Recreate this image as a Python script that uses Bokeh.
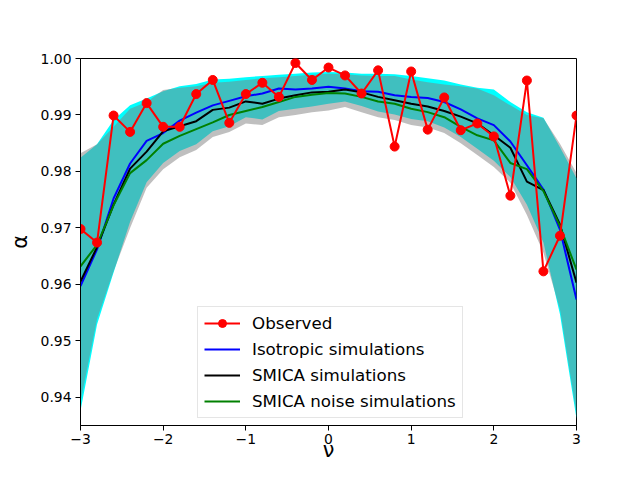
from bokeh.plotting import figure
from bokeh.models import FixedTicker, NumeralTickFormatter, Legend, LegendItem, Range1d
from bokeh.embed import file_html
from bokeh.resources import INLINE

nu = [-3.0, -2.8, -2.6, -2.4, -2.2, -2.0, -1.8, -1.6, -1.4, -1.2, -1.0,
      -0.8, -0.6, -0.4, -0.2, 0.0, 0.2, 0.4, 0.6, 0.8, 1.0,
      1.2, 1.4, 1.6, 1.8, 2.0, 2.2, 2.4, 2.6, 2.8, 3.0]

observed = [0.9698, 0.9674, 0.9899, 0.9870, 0.9921, 0.9879, 0.9879, 0.9937, 0.9962, 0.9886, 0.9937,
            0.9957, 0.9932, 0.9992, 0.9962, 0.9984, 0.9970, 0.9938, 0.9979, 0.9844, 0.9977,
            0.9874, 0.9931, 0.9873, 0.9885, 0.9862, 0.9757, 0.9961, 0.9623, 0.9686, 0.9899]

isotropic = [0.9597, 0.9662, 0.9752, 0.9814, 0.9854, 0.9868, 0.9890, 0.9904, 0.9917, 0.9925, 0.9933,
             0.9938, 0.9947, 0.9945, 0.9947, 0.9950, 0.9947, 0.9942, 0.9941, 0.9935, 0.9932,
             0.9930, 0.9923, 0.9910, 0.9894, 0.9882, 0.9853, 0.9811, 0.9768, 0.9697, 0.9573]

smica = [0.9605, 0.9666, 0.9741, 0.9805, 0.9835, 0.9871, 0.9880, 0.9889, 0.9909, 0.9913, 0.9924,
         0.9920, 0.9929, 0.9935, 0.9940, 0.9941, 0.9945, 0.9940, 0.9932, 0.9926, 0.9920,
         0.9915, 0.9907, 0.9897, 0.9885, 0.9864, 0.9842, 0.9782, 0.9767, 0.9706, 0.9603]

smica_noise = [0.9632, 0.9670, 0.9740, 0.9797, 0.9820, 0.9849, 0.9863, 0.9875, 0.9887, 0.9900, 0.9907,
               0.9914, 0.9923, 0.9932, 0.9936, 0.9939, 0.9938, 0.9932, 0.9924, 0.9920, 0.9911,
               0.9905, 0.9896, 0.9879, 0.9864, 0.9855, 0.9815, 0.9804, 0.9765, 0.9703, 0.9626]

iso_upper = [0.9824, 0.9848, 0.9891, 0.9917, 0.9929, 0.9942, 0.9951, 0.9955, 0.9963, 0.9964, 0.9967,
             0.9969, 0.9971, 0.9973, 0.9975, 0.9976, 0.9975, 0.9973, 0.9973, 0.9972, 0.9969,
             0.9965, 0.9961, 0.9954, 0.9948, 0.9945, 0.9923, 0.9905, 0.9895, 0.9843, 0.9788]

iso_lower = [0.9376, 0.9529, 0.9621, 0.9711, 0.9781, 0.9815, 0.9836, 0.9848, 0.9871, 0.9880, 0.9896,
             0.9892, 0.9907, 0.9911, 0.9915, 0.9920, 0.9924, 0.9916, 0.9906, 0.9901, 0.9893,
             0.9889, 0.9878, 0.9861, 0.9840, 0.9819, 0.9790, 0.9741, 0.9674, 0.9547, 0.9362]

smica_upper = [0.9832, 0.9848, 0.9879, 0.9911, 0.9923, 0.9944, 0.9948, 0.9951, 0.9957, 0.9959, 0.9962,
               0.9965, 0.9967, 0.9969, 0.9971, 0.9973, 0.9972, 0.9970, 0.9969, 0.9969, 0.9963,
               0.9958, 0.9954, 0.9951, 0.9947, 0.9935, 0.9917, 0.9900, 0.9894, 0.9849, 0.9797]

smica_lower = [0.9391, 0.9538, 0.9623, 0.9700, 0.9771, 0.9804, 0.9825, 0.9838, 0.9861, 0.9870, 0.9885,
               0.9882, 0.9896, 0.9900, 0.9905, 0.9908, 0.9914, 0.9905, 0.9896, 0.9891, 0.9882,
               0.9878, 0.9868, 0.9850, 0.9829, 0.9808, 0.9780, 0.9723, 0.9656, 0.9556, 0.9370]

xticks = [-3, -2, -1, 0, 1, 2, 3]
xtick_labels = ["\u22123", "\u22122", "\u22121", "0", "1", "2", "3"]
yticks = [0.94, 0.95, 0.96, 0.97, 0.98, 0.99, 1.00]

FONT = "DejaVu Sans"

p = figure(width=624, height=464, output_backend="svg", toolbar_location=None,
           x_range=Range1d(-3, 3), y_range=Range1d(0.935, 1.0),
           min_border_left=80, min_border_right=48, min_border_top=58, min_border_bottom=38)

p.background_fill_color = "white"
p.border_fill_color = "white"
p.outline_line_color = "black"
p.outline_line_width = 1
p.grid.visible = False

p.varea(x=nu, y1=iso_lower, y2=iso_upper, fill_color="#00ffff", fill_alpha=1.0)
p.varea(x=nu, y1=smica_lower, y2=smica_upper, fill_color="#808080", fill_alpha=0.5)

r_iso = p.line(nu, isotropic, line_color="#0000ff", line_width=2)
r_smica = p.line(nu, smica, line_color="black", line_width=2)
r_noise = p.line(nu, smica_noise, line_color="#008000", line_width=2)
r_obs_l = p.line(nu, observed, line_color="#ff0000", line_width=2)
r_obs_p = p.scatter(nu, observed, size=9, fill_color="#ff0000", line_color="#ff0000")

for ax in (p.xaxis, p.yaxis):
    ax.axis_line_color = "black"
    ax.axis_line_width = 1
    ax.major_tick_in = 0
    ax.major_tick_out = 5
    ax.minor_tick_line_color = None
    ax.major_label_text_font = FONT
    ax.major_label_text_font_size = "13.9px"
    ax.major_label_text_color = "black"
    ax.axis_label_text_font = FONT
    ax.axis_label_text_font_size = "20.8px"
    ax.axis_label_text_font_style = "normal"
    ax.axis_label_text_color = "black"

p.xaxis.ticker = FixedTicker(ticks=xticks)
p.xaxis.major_label_overrides = dict(zip(xticks, xtick_labels))
p.xaxis.major_label_standoff = 3
p.xaxis.axis_label = "\u03bd"
p.xaxis.axis_label_standoff = -9

p.yaxis.ticker = FixedTicker(ticks=yticks)
p.yaxis.formatter = NumeralTickFormatter(format="0.00")
p.yaxis.major_label_standoff = 4
p.yaxis.axis_label = "\u03b1"
p.yaxis.axis_label_standoff = 6

legend = Legend(items=[
    LegendItem(label="Observed", renderers=[r_obs_l, r_obs_p]),
    LegendItem(label="Isotropic simulations", renderers=[r_iso]),
    LegendItem(label="SMICA simulations", renderers=[r_smica]),
    LegendItem(label="SMICA noise simulations", renderers=[r_noise]),
], location=(117, 7))
legend.label_text_font = FONT
legend.label_text_font_size = "16.7px"
legend.label_text_color = "black"
legend.glyph_width = 36
legend.glyph_height = 20
legend.label_height = 20
legend.label_standoff = 12
legend.spacing = 6
legend.padding = 6
legend.margin = 0
legend.border_line_color = "#cccccc"
legend.border_line_width = 1
legend.background_fill_alpha = 0.8
p.add_layout(legend)

open("out.html", "w").write(file_html(p, INLINE))
